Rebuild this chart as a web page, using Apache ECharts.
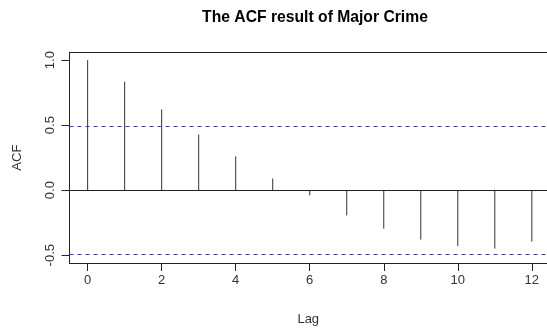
<!DOCTYPE html>
<html>
<head>
<meta charset="utf-8">
<script src="https://cdn.jsdelivr.net/npm/echarts@6/dist/echarts.min.js"></script>
<style>html,body{margin:0;padding:0;background:#fff;}#c{width:547px;height:331px;}</style>
</head>
<body>
<div id="c"></div>
<script>
var lags = [0, 1, 2, 3, 4, 5, 6, 7, 8, 9, 10, 11, 12];
var acfValues = [1.0, 0.834, 0.62, 0.428, 0.26, 0.09, -0.04, -0.194, -0.296, -0.38, -0.43, -0.449, -0.396];
var confBound = 0.489;
var xTicks = [0, 2, 4, 6, 8, 10, 12];
var yTicks = [-0.5, 0, 0.5, 1.0];
var titleText = 'The ACF result of Major Crime';
var xLabel = 'Lag';
var yLabel = 'ACF';

var chart = echarts.init(document.getElementById('c'), null, {renderer: 'canvas'});
var font = 'Liberation Sans, Arial, sans-serif';
var data = lags.map(function (l, i) { return [l, acfValues[i]]; });
var boxLine = {show: true, onZero: false, lineStyle: {color: '#222', width: 1}};

chart.setOption({
  animation: false,
  backgroundColor: '#fff',
  title: {
    text: titleText,
    left: 310, top: 5, textAlign: 'center',
    textStyle: {fontFamily: font, fontWeight: 'bold', fontSize: 15.7, color: '#000'}
  },
  grid: {left: 69.5, right: 0, top: 52.3, bottom: 67, show: false},
  xAxis: [{
    type: 'value', min: -0.49, max: 12.41, position: 'bottom',
    name: xLabel, nameLocation: 'middle', nameGap: 50,
    nameTextStyle: {fontFamily: font, fontSize: 13, color: '#333'},
    axisLine: boxLine,
    splitLine: {show: false},
    axisTick: {show: true, length: 8, inside: false, customValues: xTicks, lineStyle: {color: '#222'}},
    axisLabel: {customValues: xTicks, margin: 11, fontFamily: font, fontSize: 13, color: '#333',
      formatter: function (v) { return String(v); }}
  }, {
    type: 'value', min: -0.49, max: 12.41, position: 'top',
    axisLine: boxLine, axisTick: {show: false}, axisLabel: {show: false}, splitLine: {show: false}
  }],
  yAxis: {
    type: 'value', min: -0.56, max: 1.06,
    name: yLabel, nameLocation: 'middle', nameGap: 46, nameRotate: 90,
    nameTextStyle: {fontFamily: font, fontSize: 13, color: '#333'},
    axisLine: boxLine,
    splitLine: {show: false},
    axisTick: {show: true, length: 8, inside: false, customValues: yTicks, lineStyle: {color: '#222'}},
    axisLabel: {customValues: yTicks, rotate: 90, margin: 13, fontFamily: font, fontSize: 13, color: '#333',
      formatter: function (v) { return v.toFixed(1); }}
  },
  series: [{
    type: 'custom',
    xAxisIndex: 0,
    data: data,
    renderItem: function (params, api) {
      var p0 = api.coord([api.value(0), 0]);
      var p1 = api.coord([api.value(0), api.value(1)]);
      return {type: 'line', shape: {x1: p0[0], y1: p0[1], x2: p1[0], y2: p1[1]},
        style: {stroke: '#333', lineWidth: 1}};
    },
    markLine: {
      silent: true, symbol: 'none', label: {show: false},
      data: [
        {yAxis: 0, lineStyle: {color: '#222', type: 'solid', width: 1}},
        {yAxis: confBound, lineStyle: {color: '#3333ff', type: [4, 4], width: 1}},
        {yAxis: -confBound, lineStyle: {color: '#3333ff', type: [4, 4], width: 1}}
      ]
    }
  }]
});
</script>
</body>
</html>
